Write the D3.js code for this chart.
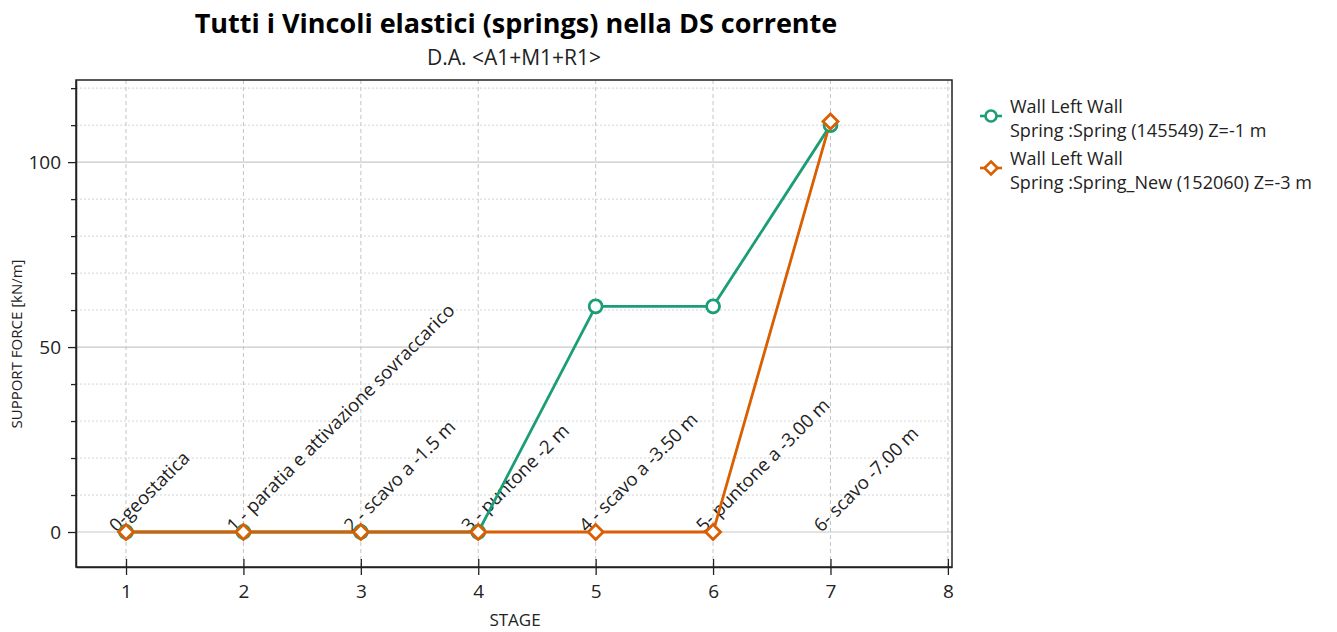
<html>
<head>
<script src="https://d3js.org/d3.v7.min.js"></script>
<style>
  body { margin: 0; background: #fff; }
  text { font-family: "Open Sans", "Noto Sans", sans-serif; }
</style>
</head>
<body>
<script>
// chart data
var stages = [1, 2, 3, 4, 5, 6, 7];
var stageNames = ["0-geostatica", "1 - paratia e attivazione sovraccarico", "2 - scavo a -1.5 m",
  "3 - puntone -2 m", "4 - scavo a -3.50 m", "5- puntone a -3.00 m", "6- scavo -7.00 m"];
var spring1 = [0, 0, 0, 0, 61, 61, 110];
var spring2 = [0, 0, 0, 0, 0, 0, 111];
var seriesNames = [
  ["Wall Left Wall", "Spring :Spring (145549) Z=-1 m"],
  ["Wall Left Wall", "Spring :Spring_New (152060) Z=-3 m"]
];
var xTicks = [1, 2, 3, 4, 5, 6, 7, 8];
var yMajor = [0, 50, 100];
var yMinor = [10, 20, 30, 40, 60, 70, 80, 90, 110, 120];

var W = 1337, H = 632;
var pLeft = 76, pRight = 952, pTop = 80, pBottom = 567;
var green = "#1b9e77", orange = "#d95f02";

var svg = d3.select("body").append("svg").attr("width", W).attr("height", H);

var x = d3.scaleLinear().domain([0.574, 8.035]).range([pLeft, pRight]);
var y = d3.scaleLinear().domain([-9.46, 122.2]).range([pBottom, pTop]);

// grid
var grid = svg.append("g");
grid.selectAll(".vg").data(xTicks).enter().append("line")
  .attr("x1", d => x(d)).attr("x2", d => x(d)).attr("y1", pTop).attr("y2", pBottom)
  .attr("stroke", "#c4c4c4").attr("stroke-dasharray", "4,3");
grid.selectAll(".mg").data(yMinor).enter().append("line")
  .attr("x1", pLeft).attr("x2", pRight).attr("y1", d => y(d)).attr("y2", d => y(d))
  .attr("stroke", "#d4d4d4").attr("stroke-dasharray", "2,2");
grid.selectAll(".Mg").data(yMajor).enter().append("line")
  .attr("x1", pLeft).attr("x2", pRight).attr("y1", d => y(d)).attr("y2", d => y(d))
  .attr("stroke", "#c8c8c8").attr("stroke-width", 1.2);

// frame
svg.append("rect").attr("x", pLeft).attr("y", pTop).attr("width", pRight - pLeft).attr("height", pBottom - pTop)
  .attr("fill", "none").attr("stroke", "#222").attr("stroke-width", 1.5);

// axes
var xAxis = svg.append("g").attr("transform", "translate(0," + pBottom + ")")
  .call(d3.axisBottom(x).tickValues(xTicks).tickSize(8).tickSizeOuter(0).tickFormat(d3.format("d")));
xAxis.selectAll(".tick line").attr("y1", -8).attr("y2", 8);
var yAxis = svg.append("g").attr("transform", "translate(" + pLeft + ",0)")
  .call(d3.axisLeft(y).tickValues(yMajor).tickSize(8).tickSizeOuter(0).tickFormat(d3.format("d")));
svg.append("g").attr("transform", "translate(" + pLeft + ",0)")
  .call(d3.axisLeft(y).tickValues(yMinor).tickSize(5).tickFormat(""))
  .call(g => g.select(".domain").remove())
  .call(g => g.selectAll(".tick line").attr("stroke", "#222").attr("stroke-width", 1.3));
[xAxis, yAxis].forEach(function (a) {
  a.attr("font-size", 19).attr("font-family", null);
  a.select(".domain").attr("stroke", "#222").attr("stroke-width", 1.5);
  a.selectAll(".tick line").attr("stroke", "#222").attr("stroke-width", 1.3);
  a.selectAll(".tick text").attr("fill", "#222");
});
xAxis.selectAll(".tick text").attr("y", 18);
yAxis.selectAll(".tick text").attr("x", -15);

// stage name labels
svg.append("g").selectAll("text").data(stages).enter().append("text")
  .attr("transform", (d, i) => "translate(" + (x(d) - 9) + "," + (y(0) + 1) + ") rotate(-45)")
  .attr("font-size", 18.5).attr("fill", "#222")
  .text((d, i) => stageNames[i]);

// lines
var line = d3.line().x((d, i) => x(stages[i])).y(d => y(d));
svg.append("path").datum(spring1).attr("d", line)
  .attr("fill", "none").attr("stroke", green).attr("stroke-width", 2.8);
svg.append("path").datum(spring2).attr("d", line)
  .attr("fill", "none").attr("stroke", orange).attr("stroke-width", 2.8);

svg.append("g").selectAll("circle").data(spring1).enter().append("circle")
  .attr("cx", (d, i) => x(stages[i])).attr("cy", d => y(d)).attr("r", 6.5)
  .attr("fill", "#fff").attr("stroke", green).attr("stroke-width", 2.8);
var diamond = "M0,-7.5L7.5,0L0,7.5L-7.5,0Z";
svg.append("g").selectAll("path").data(spring2).enter().append("path")
  .attr("transform", (d, i) => "translate(" + x(stages[i]) + "," + y(d) + ")")
  .attr("d", diamond)
  .attr("fill", "#fff").attr("stroke", orange).attr("stroke-width", 2.8);

// titles
svg.append("text").attr("x", 516).attr("y", 33).attr("text-anchor", "middle")
  .attr("font-size", 27).attr("font-weight", "bold").attr("fill", "#000")
  .text("Tutti i Vincoli elastici (springs) nella DS corrente");
svg.append("text").attr("x", 514).attr("y", 65).attr("text-anchor", "middle")
  .attr("font-size", 21).attr("fill", "#222").text("D.A. <A1+M1+R1>");
svg.append("text").attr("x", 515).attr("y", 626).attr("text-anchor", "middle")
  .attr("font-size", 17).attr("fill", "#222").text("STAGE");
svg.append("text").attr("transform", "translate(22,344) rotate(-90)").attr("text-anchor", "middle")
  .attr("font-size", 15).attr("fill", "#222").text("SUPPORT FORCE [kN/m]");

// legend
var colors = [green, orange];
var lg = svg.append("g").selectAll("g").data(seriesNames).enter().append("g")
  .attr("transform", (d, i) => "translate(980," + (116 + i * 52) + ")");
lg.append("line").attr("x1", 0).attr("x2", 22).attr("stroke", (d, i) => colors[i]).attr("stroke-width", 2.6);
lg.each(function (d, i) {
  var g = d3.select(this);
  if (i == 0) g.append("circle").attr("cx", 11).attr("r", 5.5).attr("fill", "#fff")
    .attr("stroke", colors[i]).attr("stroke-width", 2.6);
  else g.append("path").attr("transform", "translate(11,0)").attr("d", "M0,-6.5L6.5,0L0,6.5L-6.5,0Z")
    .attr("fill", "#fff").attr("stroke", colors[i]).attr("stroke-width", 2.6);
});
lg.append("text").attr("x", 30).attr("y", -3).attr("font-size", 18).attr("fill", "#222").text(d => d[0]);
lg.append("text").attr("x", 30).attr("y", 21).attr("font-size", 18).attr("fill", "#222").text(d => d[1]);
</script>
</body>
</html>
